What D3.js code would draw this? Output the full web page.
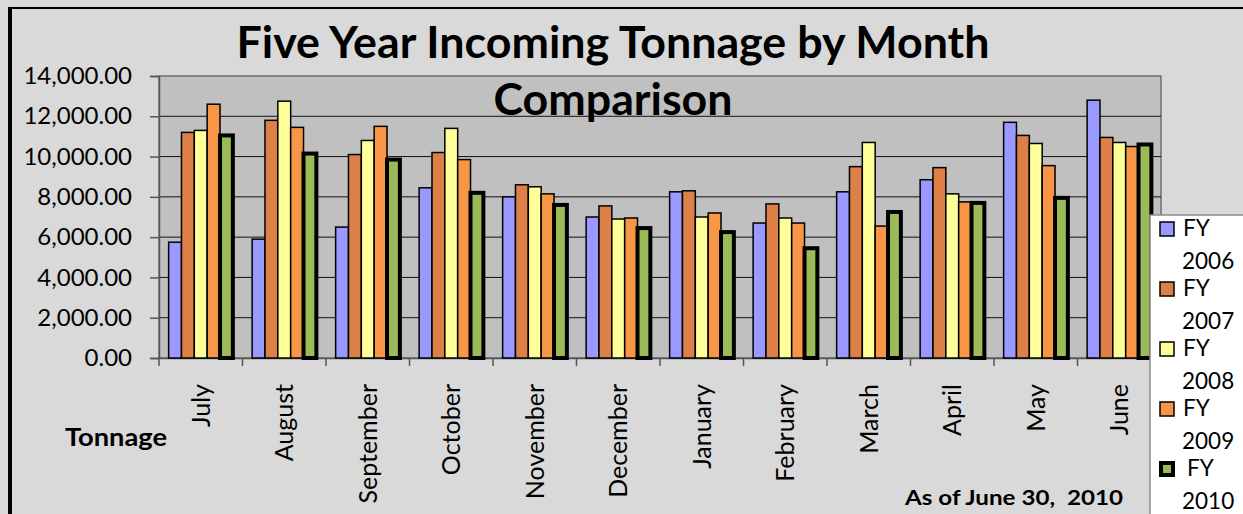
<!DOCTYPE html>
<html>
<head>
<meta charset="utf-8">
<script src="https://cdn.jsdelivr.net/npm/d3@7"></script>
<style>
  html, body { margin: 0; padding: 0; background: #d9d9d9; }
  svg { display: block; font-family: Lato, "Open Sans", sans-serif; }
  .pre { white-space: pre; }
</style>
</head>
<body>
<svg id="chart" width="1243" height="514"></svg>
<script>
// Monthly incoming tonnage, fiscal years 2006–2010
const months = ["July", "August", "September", "October", "November", "December",
                "January", "February", "March", "April", "May", "June"];
const seriesNames = ["FY 2006", "FY 2007", "FY 2008", "FY 2009", "FY 2010"];
const fy2006 = [5750, 5900, 6500, 8450, 8000, 7000, 8250, 6700, 8250, 8850, 11700, 12800];
const fy2007 = [11200, 11800, 10100, 10200, 8600, 7550, 8300, 7650, 9500, 9450, 11050, 10950];
const fy2008 = [11300, 12750, 10800, 11400, 8500, 6900, 7000, 6950, 10700, 8150, 10650, 10700];
const fy2009 = [12600, 11450, 11500, 9850, 8150, 6950, 7200, 6700, 6550, 7750, 9550, 10500];
const fy2010 = [11050, 10150, 9850, 8200, 7600, 6450, 6250, 5450, 7250, 7700, 7950, 10600];
const yTicks = [0, 2000, 4000, 6000, 8000, 10000, 12000, 14000];

const seriesValues = [fy2006, fy2007, fy2008, fy2009, fy2010];
const colors = ["#9999ff", "#dd8047", "#ffff99", "#f79646", "#9bbb59"];
const strokeW = [1.5, 1.5, 1.5, 1.5, 4];

const svg = d3.select("#chart");
const W = 1243, H = 514;
const plot = { left: 159, right: 1161, top: 76, bottom: 358 };

// chart frame
svg.append("rect").attr("x", 0).attr("y", 0).attr("width", W).attr("height", H).attr("fill", "#d9d9d9");
svg.append("line").attr("x1", 8).attr("x2", W).attr("y1", 8).attr("y2", 8)
   .attr("stroke", "#000").attr("stroke-width", 2);
svg.append("line").attr("x1", 10).attr("x2", 10).attr("y1", 7).attr("y2", H)
   .attr("stroke", "#000").attr("stroke-width", 4);

const x = d3.scaleBand().domain(months).range([plot.left, plot.right]);
const y = d3.scaleLinear().domain([0, 14000]).range([plot.bottom, plot.top]);
const barW = x.bandwidth() / 6.5;
const xInner = d3.scaleBand().domain(seriesNames)
  .range([barW * 0.75, barW * 0.75 + barW * 5]);

// plot area
svg.append("rect")
  .attr("x", plot.left).attr("y", plot.top)
  .attr("width", plot.right - plot.left).attr("height", plot.bottom - plot.top)
  .attr("fill", "#c0c0c0").attr("stroke", "#404040").attr("stroke-width", 1);

// gridlines
svg.append("g").selectAll("line")
  .data(yTicks.filter(d => d > 0 && d < 14000))
  .join("line")
  .attr("x1", plot.left).attr("x2", plot.right)
  .attr("y1", d => y(d)).attr("y2", d => y(d))
  .attr("stroke", "#111").attr("stroke-width", 1);

// y axis
const yAxis = svg.append("g").attr("transform", `translate(${plot.left},0)`)
  .call(d3.axisLeft(y).tickValues(yTicks).tickSize(9).tickPadding(18)
    .tickFormat(d => d3.format(",.2f")(d)));
yAxis.select(".domain").attr("stroke", "#555").attr("stroke-width", 1.5);
yAxis.selectAll(".tick line").attr("stroke", "#555").attr("stroke-width", 1.5);
yAxis.selectAll("text").attr("font-family", "Lato, sans-serif")
  .attr("font-size", 24).attr("fill", "#000");

// x axis
const xAxis = svg.append("g").attr("transform", `translate(0,${plot.bottom})`)
  .call(d3.axisBottom(x).tickSize(0).tickPadding(0));
xAxis.select(".domain").attr("stroke", "#555").attr("stroke-width", 1.5);
xAxis.selectAll(".tick text")
  .attr("font-family", "Lato, sans-serif").attr("font-size", 25).attr("fill", "#000")
  .attr("text-anchor", "end").attr("dy", "0.35em")
  .attr("transform", "translate(0,26) rotate(-90)");
// category separators
svg.append("g").selectAll("line")
  .data(months.concat(["end"]))
  .join("line")
  .attr("x1", (d, i) => plot.left + i * x.step())
  .attr("x2", (d, i) => plot.left + i * x.step())
  .attr("y1", plot.bottom).attr("y2", plot.bottom + 8)
  .attr("stroke", "#555").attr("stroke-width", 1.5);

// bars
const groups = svg.append("g").selectAll("g")
  .data(seriesNames.map((name, s) => ({ name, s, values: seriesValues[s] })))
  .join("g");
groups.selectAll("rect")
  .data(d => d.values.map((v, i) => ({ v, month: months[i], s: d.s, name: d.name })))
  .join("rect")
  .attr("x", d => x(d.month) + xInner(d.name))
  .attr("y", d => y(d.v))
  .attr("width", barW)
  .attr("height", d => y(0) - y(d.v))
  .attr("fill", d => colors[d.s])
  .attr("stroke", "#000")
  .attr("stroke-width", d => strokeW[d.s]);

// title
const title = svg.append("g").attr("font-weight", "bold").attr("fill", "#000")
  .attr("text-anchor", "middle").attr("font-size", 43);
title.append("text").attr("x", 613).attr("y", 58)
  .attr("textLength", 753).attr("lengthAdjust", "spacingAndGlyphs")
  .text("Five Year Incoming Tonnage by Month");
title.append("text").attr("x", 613).attr("y", 115)
  .attr("textLength", 239).attr("lengthAdjust", "spacingAndGlyphs")
  .text("Comparison");

// side and footer notes
svg.append("text").attr("x", 65).attr("y", 446)
  .attr("font-weight", "bold").attr("font-size", 25)
  .attr("textLength", 102).attr("lengthAdjust", "spacingAndGlyphs")
  .text("Tonnage");
svg.append("text").attr("class", "pre").attr("x", 905).attr("y", 505)
  .attr("font-weight", "bold").attr("font-size", 21)
  .attr("textLength", 218).attr("lengthAdjust", "spacingAndGlyphs")
  .text("As of June 30,  2010");

// legend
const lg = svg.append("g");
lg.append("rect").attr("x", 1150).attr("y", 215).attr("width", 120).attr("height", 320)
  .attr("fill", "#fff").attr("stroke", "#8c8c8c").attr("stroke-width", 1.5);
const items = lg.selectAll("g.item")
  .data(seriesNames)
  .join("g").attr("class", "item")
  .attr("transform", (d, i) => `translate(1160,${222 + i * 60})`);
items.append("rect")
  .attr("x", (d, i) => i === 4 ? 1 : 0).attr("y", (d, i) => i === 4 ? 1 : 0)
  .attr("width", (d, i) => i === 4 ? 12 : 14).attr("height", (d, i) => i === 4 ? 12 : 14)
  .attr("fill", (d, i) => colors[i]).attr("stroke", "#000")
  .attr("stroke-width", (d, i) => i === 4 ? 4 : 1.5);
items.append("text")
  .attr("x", (d, i) => i === 4 ? 27 : 23).attr("y", 14)
  .attr("font-size", 22.5).text(d => d.split(" ")[0]);
items.append("text")
  .attr("x", 22).attr("y", 47)
  .attr("font-size", 22.5).text(d => d.split(" ")[1]);
</script>
</body>
</html>
